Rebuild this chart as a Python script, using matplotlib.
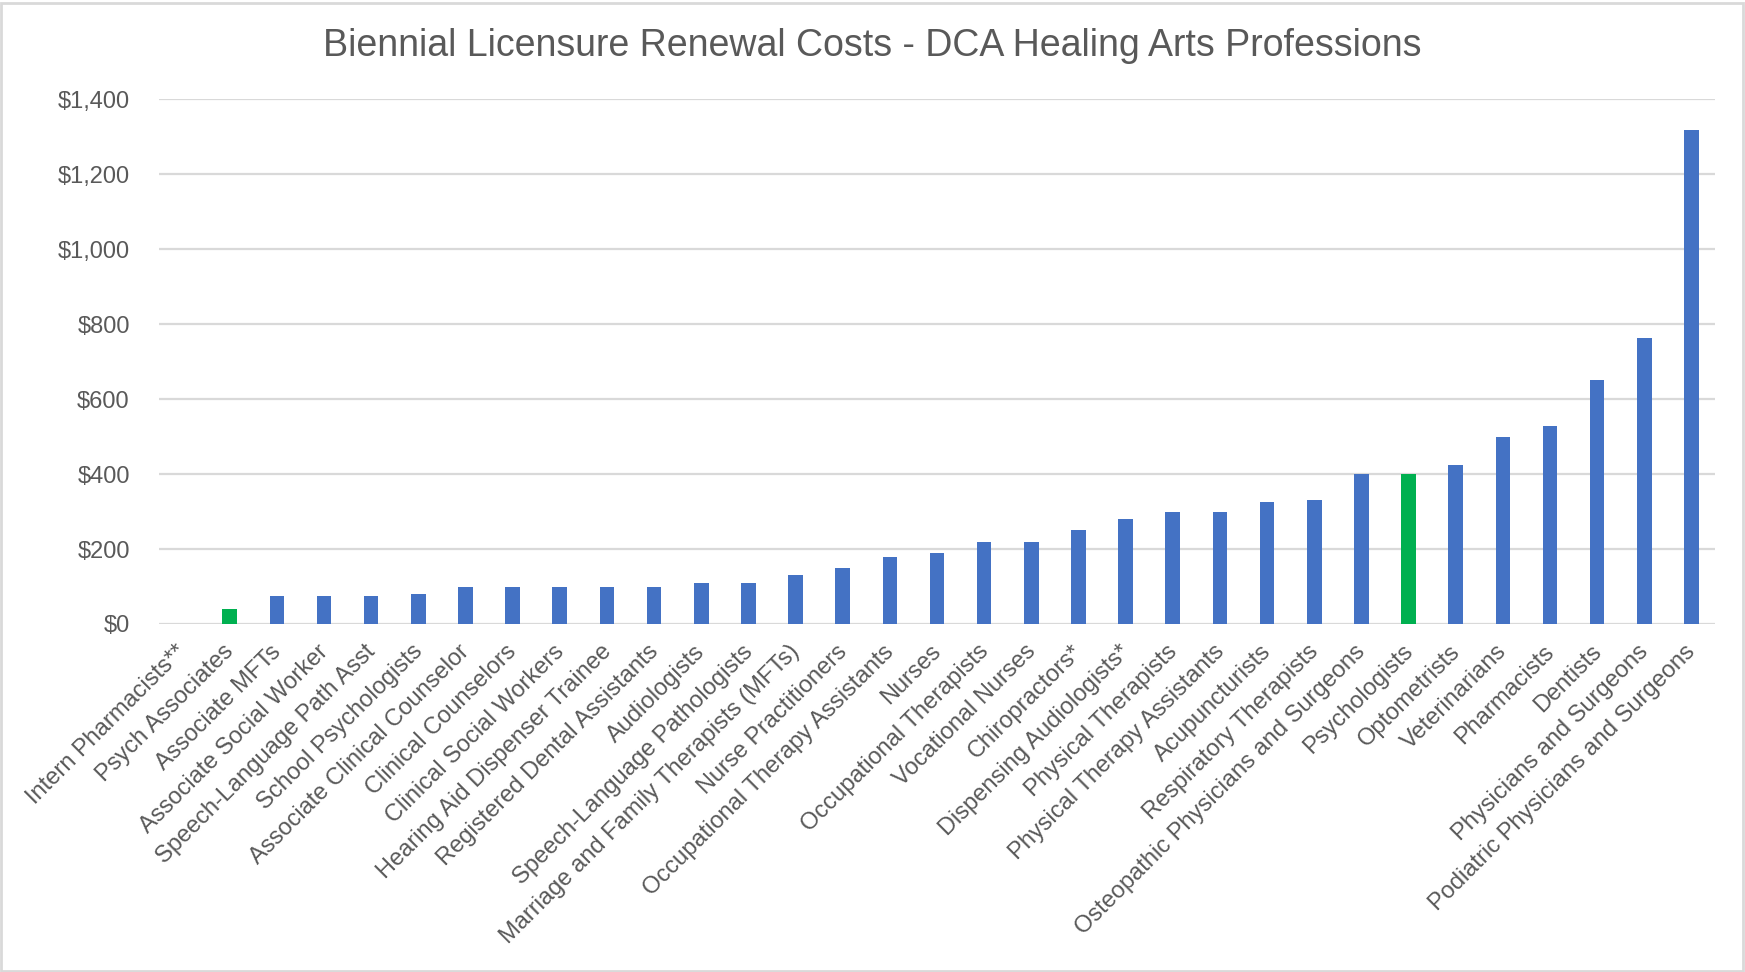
import matplotlib
matplotlib.use("Agg")
import matplotlib.pyplot as plt
from matplotlib.patches import Rectangle
from matplotlib.ticker import FuncFormatter
from matplotlib.transforms import ScaledTranslation

plt.rcParams["font.family"] = ["Liberation Sans", "DejaVu Sans"]

professions = [
    "Intern Pharmacists**", "Psych Associates", "Associate MFTs",
    "Associate Social Worker", "Speech-Language Path Asst", "School Psychologists",
    "Associate Clinical Counselor", "Clinical Counselors", "Clinical Social Workers",
    "Hearing Aid Dispenser Trainee", "Registered Dental Assistants", "Audiologists",
    "Speech-Language Pathologists", "Marriage and Family Therapists (MFTs)",
    "Nurse Practitioners", "Occupational Therapy Assistants", "Nurses",
    "Occupational Therapists", "Vocational Nurses", "Chiropractors*",
    "Dispensing Audiologists*", "Physical Therapists", "Physical Therapy Assistants",
    "Acupuncturists", "Respiratory Therapists", "Osteopathic Physicians and Surgeons",
    "Psychologists", "Optometrists", "Veterinarians", "Pharmacists", "Dentists",
    "Physicians and Surgeons", "Podiatric Physicians and Surgeons",
]
renewal_cost = [
    0, 40, 75, 75, 75, 80, 100, 100, 100, 100, 100, 110, 110, 130, 150, 180, 190,
    220, 220, 250, 280, 300, 300, 325, 330, 400, 400, 425, 500, 528, 650, 763, 1317,
]
highlighted = ["Psych Associates", "Psychologists"]

BLUE = "#4472C4"
GREEN = "#00B050"
TEXT = "#595959"
GRID = "#D9D9D9"

fig = plt.figure(figsize=(17.45, 9.72), dpi=100)
ax = fig.add_axes([159 / 1745, 1 - 624 / 972, (1715 - 159) / 1745, (624 - 99) / 972])

colors = [GREEN if p in highlighted else BLUE for p in professions]
x = range(len(professions))
ax.bar(x, renewal_cost, width=0.31, color=colors, zorder=3)

ax.set_xlim(-0.5, len(professions) - 0.5)
ax.set_ylim(0, 1400)
ax.set_yticks(range(0, 1401, 200))
ax.yaxis.set_major_formatter(FuncFormatter(lambda v, _: f"${v:,.0f}"))
ax.grid(axis="y", color=GRID, linewidth=1.6, zorder=0)
for s in ax.spines.values():
    s.set_visible(False)
ax.tick_params(axis="y", length=0, pad=21, labelsize=17, labelcolor=TEXT)
ax.tick_params(axis="x", length=0, pad=12, labelsize=17, labelcolor=TEXT)

ax.set_xticks(list(x))
labels = ax.set_xticklabels(professions, rotation=45, ha="right", va="top",
                            rotation_mode="anchor")
shift = ScaledTranslation(-7 / 100, 0, fig.dpi_scale_trans)
for lab in labels:
    lab.set_transform(lab.get_transform() + shift)

fig.text(0.5, 1 - 46 / 972, "Biennial Licensure Renewal Costs - DCA Healing Arts Professions",
         ha="center", va="center", fontsize=27, color=TEXT)

# light border around the chart area
fig.patches.append(Rectangle((0.0006, 0.001), 0.9983, 0.996, transform=fig.transFigure,
                             fill=False, edgecolor=GRID, linewidth=2))

fig.savefig("out.png", dpi=100, facecolor="white")
